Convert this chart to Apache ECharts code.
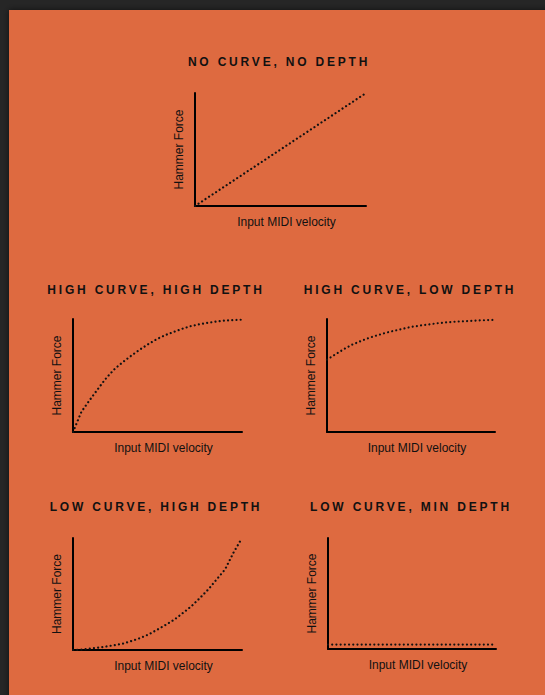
<!DOCTYPE html>
<html><head><meta charset="utf-8">
<script src="https://cdn.jsdelivr.net/npm/echarts@6/dist/echarts.min.js"></script>
<style>
html,body{margin:0;padding:0;background:#262626;overflow:hidden;}
#c{width:545px;height:695px;}
#c svg text[style*="900"]{letter-spacing:2.8px;}
</style></head><body><div id="c"></div>
<script>
// ---- data ----
const velocity = [0, 5, 10, 15, 20, 25, 30, 35, 40, 45, 50, 55, 60, 65, 70, 75, 80, 85, 90, 95, 100];
const noCurveNoDepth = [0, 5, 10, 15, 20, 25, 30, 35, 40, 45, 50, 55, 60, 65, 70, 75, 80, 85, 90, 95, 100];
const highCurveHighDepth = [0, 18, 28.5, 38.6, 48.4, 56.3, 62.5, 68.2, 73.4, 78.2, 82.5, 86, 88.8, 91.5, 93.8, 95.4, 96.7, 97.8, 98.6, 99, 99.4];
const highCurveLowDepth = [64, 68.7, 73.3, 77.3, 80.4, 83.3, 85.6, 87.8, 89.6, 91.3, 93, 94.1, 95.1, 96.1, 96.9, 97.5, 97.9, 98.3, 98.7, 99, 99.2];
const lowCurveHighDepth = [0, 0.3, 1.2, 2.1, 3.2, 4.5, 5.9, 8.2, 10.8, 14.1, 18.3, 22.6, 27.2, 33, 39, 46.3, 54, 63, 72, 87, 100];
const lowCurveMinDepth = [4, 4, 4, 4, 4, 4, 4, 4, 4, 4, 4, 4, 4, 4, 4, 4, 4, 4, 4, 4, 4];
const titles = ['NO CURVE, NO DEPTH', 'HIGH CURVE, HIGH DEPTH', 'HIGH CURVE, LOW DEPTH', 'LOW CURVE, HIGH DEPTH', 'LOW CURVE, MIN DEPTH'];
const xName = 'Input MIDI velocity';
const yName = 'Hammer Force';
const seriesValues = [noCurveNoDepth, highCurveHighDepth, highCurveLowDepth, lowCurveHighDepth, lowCurveMinDepth];

// ---- layout ----
const panels = [
  {left: 195, top: 93, width: 171, height: 113, tx: 279, ty: 62},
  {left: 73, top: 319, width: 169, height: 113, tx: 156, ty: 290},
  {left: 327, top: 319, width: 168, height: 113, tx: 410, ty: 290},
  {left: 73, top: 538, width: 169, height: 112, tx: 156, ty: 507},
  {left: 328, top: 538, width: 168, height: 111, tx: 411, ty: 507}
];
const ink = '#111111';
const labelFont = "'Liberation Sans', Arial, sans-serif";

const chart = echarts.init(document.getElementById('c'), null, {renderer: 'svg'});
const axisCommon = {
  type: 'value', min: 0, max: 100,
  axisLine: {show: true, onZero: false, lineStyle: {color: '#000', width: 2}},
  axisTick: {show: false}, axisLabel: {show: false}, splitLine: {show: false}
};
chart.setOption({
  backgroundColor: '#262626',
  animation: false,
  graphic: [{
    type: 'rect', z: -10, silent: true,
    shape: {x: 9, y: 10, width: 560, height: 720},
    style: {fill: '#de6a40', shadowBlur: 6, shadowColor: 'rgba(0,0,0,0.6)'}
  }],
  title: panels.map((p, i) => ({
    text: titles[i], left: p.tx, top: p.ty, textAlign: 'center', textVerticalAlign: 'middle', padding: 0,
    textStyle: {fontFamily: labelFont, fontWeight: 900, fontSize: 12, color: ink}
  })),
  grid: panels.map(p => ({left: p.left, top: p.top, width: p.width, height: p.height})),
  xAxis: panels.map((p, i) => Object.assign({}, axisCommon, {
    gridIndex: i, name: xName, nameLocation: 'middle', nameGap: 10,
    nameTextStyle: {fontFamily: labelFont, fontSize: 12, color: ink, padding: [0, 0, 0, 12], verticalAlign: 'top'}
  })),
  yAxis: panels.map((p, i) => Object.assign({}, axisCommon, {
    gridIndex: i, name: yName, nameLocation: 'middle', nameGap: 10,
    nameTextStyle: {fontFamily: labelFont, fontSize: 12, color: ink}
  })),
  series: seriesValues.map((vals, i) => ({
    type: 'line', xAxisIndex: i, yAxisIndex: i, showSymbol: false, smooth: false,
    lineStyle: {color: ink, width: 2.2, type: [0.01, 4.2], cap: 'round'},
    data: velocity.map((v, j) => [v, vals[j]])
  }))
});
</script></body></html>
